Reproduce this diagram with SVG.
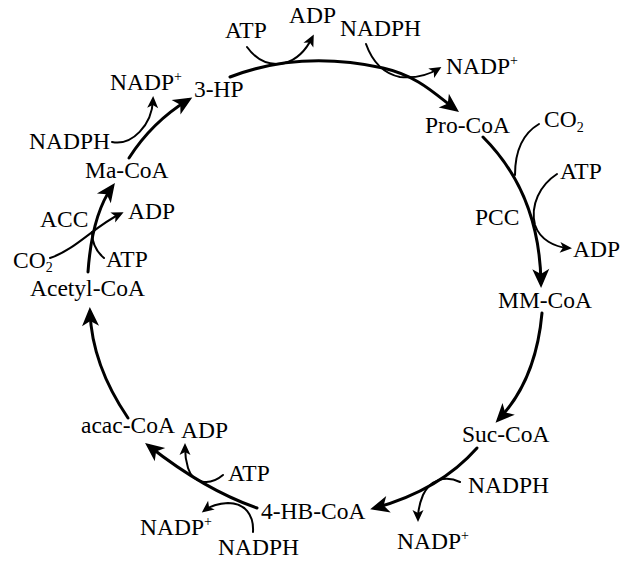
<svg xmlns="http://www.w3.org/2000/svg" width="629" height="561" viewBox="0 0 629 561">
  <style>
    text { font-family: "Liberation Serif", "Times New Roman", serif; font-size: 23.5px; fill: #000; }
    .sup { font-size: 14px; }
    .sub { font-size: 14px; }
    .main { fill: none; stroke: #000; stroke-width: 3; stroke-linecap: round; marker-end: url(#head); }
    .side { fill: none; stroke: #000; stroke-width: 2; stroke-linecap: round; }
    .side.arr { marker-end: url(#tip); }
  </style>
  <defs>
    <marker id="head" markerUnits="userSpaceOnUse" viewBox="-16 -10 22 20" markerWidth="22" markerHeight="20" refX="0" refY="0" orient="auto">
      <path d="M5,0 L-14,-8.5 L-9,0 L-14,8.5 Z" fill="#000"/>
    </marker>
    <marker id="tip" markerUnits="userSpaceOnUse" viewBox="-10 -7 15 14" markerWidth="15" markerHeight="14" refX="0" refY="0" orient="auto">
      <path d="M4,0 L-8,-5.5 L-5,0 L-8,5.5 Z" fill="#000"/>
    </marker>
  </defs>

  <!-- cycle arrows and cofactor branches -->
  <g id="connectors">
    <!-- Acetyl-CoA to Ma-CoA (ACC) -->
    <path class="main" d="M88,272 Q92,215 112,187"/>
    <path class="side arr" d="M50,258 C75,250 95,226 120,214"/>
    <path class="side" d="M104,258 Q92,248 92,232"/>
    <!-- Ma-CoA to 3-HP -->
    <path class="main" d="M129,158 Q152,122 188,100"/>
    <path class="side arr" d="M112,142 C132,146 152,125 153,100"/>
    <!-- 3-HP to Pro-CoA -->
    <path class="main" d="M230,77 Q300,50 383,68 C418,76 435,94 455,109"/>
    <path class="side arr" d="M247,47 Q262,68 285,63 Q302,58 312,38"/>
    <path class="side arr" d="M366,44 Q376,72 400,77 Q422,79 438,69"/>
    <!-- Pro-CoA to MM-CoA (PCC) -->
    <path class="main" d="M483,137 C518,172 540,220 541,283"/>
    <path class="side" d="M539,124 C522,134 515,152 515,175"/>
    <path class="side arr" d="M557,174 C540,185 530,205 535,225 C540,240 555,247 568,248"/>
    <!-- MM-CoA to Suc-CoA -->
    <path class="main" d="M542,313 Q536,380 499,419"/>
    <!-- Suc-CoA to 4-HB-CoA -->
    <path class="main" d="M477,448 Q440,490 375,508"/>
    <path class="side arr" d="M460,482 C445,475 430,480 423,495 Q418,507 418,518"/>
    <!-- 4-HB-CoA to acac-CoA -->
    <path class="main" d="M257,508 Q205,490 149,446"/>
    <path class="side arr" d="M223,475 C210,486 193,484 188,468 Q185,458 185,447"/>
    <path class="side arr" d="M253,532 C254,515 245,503 228,503 Q213,504 205,510"/>
    <!-- acac-CoA to Acetyl-CoA -->
    <path class="main" d="M128,418 Q92,365 90,312"/>
  </g>

  <!-- intermediates -->
  <g id="acetyl-coa"><text x="30" y="296">Acetyl-CoA</text></g>
  <g id="ma-coa"><text x="85" y="178">Ma-CoA</text></g>
  <g id="hp3"><text x="194" y="97">3-HP</text></g>
  <g id="pro-coa"><text x="425" y="133">Pro-CoA</text></g>
  <g id="mm-coa"><text x="498" y="308">MM-CoA</text></g>
  <g id="suc-coa"><text x="462" y="442">Suc-CoA</text></g>
  <g id="hb4-coa"><text x="261" y="519">4-HB-CoA</text></g>
  <g id="acac-coa"><text x="81" y="433">acac-CoA</text></g>

  <!-- enzymes -->
  <g id="acc"><text x="40" y="227">ACC</text></g>
  <g id="pcc"><text x="475" y="225">PCC</text></g>

  <!-- cofactors -->
  <g id="co2-left"><text x="13" y="268">CO<tspan class="sub" dy="4">2</tspan></text></g>
  <g id="atp-left"><text x="106" y="267">ATP</text></g>
  <g id="adp-left"><text x="128" y="219">ADP</text></g>
  <g id="nadph-left"><text x="29" y="149">NADPH</text></g>
  <g id="nadp-left"><text x="110" y="90">NADP<tspan class="sup" dy="-9">+</tspan></text></g>
  <g id="atp-top"><text x="225" y="38">ATP</text></g>
  <g id="adp-top"><text x="289" y="23">ADP</text></g>
  <g id="nadph-top"><text x="340" y="36">NADPH</text></g>
  <g id="nadp-top"><text x="446" y="74">NADP<tspan class="sup" dy="-9">+</tspan></text></g>
  <g id="co2-right"><text x="544" y="127">CO<tspan class="sub" dy="5">2</tspan></text></g>
  <g id="atp-right"><text x="560" y="179">ATP</text></g>
  <g id="adp-right"><text x="573" y="257">ADP</text></g>
  <g id="nadph-right"><text x="468" y="493">NADPH</text></g>
  <g id="nadp-right"><text x="397" y="549">NADP<tspan class="sup" dy="-9">+</tspan></text></g>
  <g id="nadph-bottom"><text x="218" y="555">NADPH</text></g>
  <g id="nadp-bottom"><text x="140" y="535">NADP<tspan class="sup" dy="-9">+</tspan></text></g>
  <g id="atp-bottom"><text x="228" y="481">ATP</text></g>
  <g id="adp-bottom"><text x="181" y="438">ADP</text></g>
</svg>
